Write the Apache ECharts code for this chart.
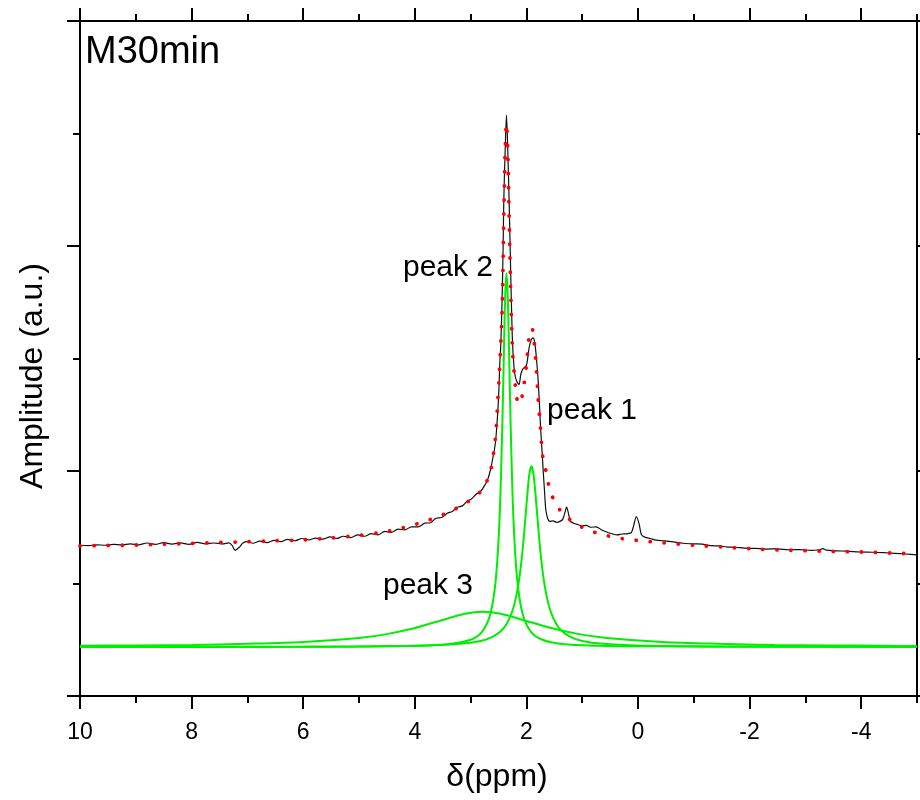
<!DOCTYPE html>
<html>
<head>
<meta charset="utf-8">
<script src="https://cdn.jsdelivr.net/npm/echarts@6/dist/echarts.min.js"></script>
<style>html,body{margin:0;padding:0;background:#fff}#c{width:920px;height:800px}</style>
</head>
<body>
<div id="c"></div>
<script>
// x ticks (ppm)
var xMajor = [10, 8, 6, 4, 2, 0, -2, -4];
var xMinor = [9, 7, 5, 3, 1, -1, -3, -5];

// Experimental spectrum (black)
var measured = [
[10,0.670],[9.85,0.668],[9.7,0.672],[9.55,0.670],[9.4,0.674],[9.25,0.671],[9.1,0.676],[8.95,0.672],
[8.8,0.680],[8.65,0.674],[8.5,0.682],[8.35,0.675],[8.2,0.681],[8.05,0.674],[7.9,0.683],[7.75,0.676],
[7.6,0.680],[7.45,0.676],[7.33,0.681],[7.27,0.668],[7.22,0.647],[7.15,0.660],[7.08,0.680],[7.0,0.686],
[6.9,0.679],[6.78,0.688],[6.65,0.682],[6.52,0.692],[6.4,0.686],[6.28,0.696],[6.15,0.690],[6.02,0.700],
[5.9,0.694],[5.78,0.702],[5.65,0.697],[5.52,0.707],[5.4,0.700],[5.28,0.710],[5.15,0.704],[5.02,0.716],
[4.9,0.710],[4.78,0.722],[4.66,0.716],[4.54,0.732],[4.42,0.727],[4.3,0.742],[4.18,0.738],[4.06,0.752],
[3.94,0.752],[3.82,0.768],[3.72,0.770],[3.62,0.790],[3.52,0.793],[3.42,0.812],[3.33,0.820],[3.24,0.838],
[3.15,0.845],[3.06,0.866],[2.98,0.877],[2.9,0.897],[2.82,0.910],[2.75,0.935],[2.69,0.965],[2.64,1.01],
[2.6,1.06],[2.57,1.10],[2.55,1.138],[2.53,1.20],[2.507,1.286],[2.49,1.38],[2.477,1.479],[2.459,1.56],
[2.436,1.76],[2.418,1.982],[2.405,2.204],[2.38,2.427],[2.357,2.582],[2.334,2.427],[2.31,2.204],[2.29,1.982],
[2.27,1.76],[2.25,1.58],[2.225,1.47],[2.2,1.42],[2.165,1.395],[2.132,1.385],[2.1,1.43],[2.06,1.455],
[2.0,1.47],[1.95,1.55],[1.91,1.585],[1.88,1.592],[1.85,1.57],[1.82,1.50],[1.79,1.404],[1.765,1.29],
[1.743,1.18],[1.72,1.09],[1.70,1.004],[1.675,0.91],[1.653,0.83],[1.62,0.79],[1.58,0.776],[1.52,0.778],
[1.46,0.772],[1.40,0.776],[1.35,0.785],[1.31,0.815],[1.28,0.84],[1.25,0.815],[1.21,0.776],[1.15,0.768],
[1.08,0.762],[1.0,0.756],[0.93,0.758],[0.85,0.750],[0.75,0.752],[0.65,0.738],[0.55,0.728],[0.45,0.720],
[0.38,0.716],[0.28,0.720],[0.18,0.722],[0.12,0.726],[0.08,0.755],[0.03,0.797],[-0.02,0.765],[-0.06,0.718],
[-0.12,0.706],[-0.22,0.700],[-0.33,0.693],[-0.45,0.690],[-0.6,0.686],[-0.81,0.679],[-1.0,0.676],[-1.15,0.675],
[-1.3,0.668],[-1.45,0.667],[-1.6,0.662],[-1.75,0.661],[-1.9,0.657],[-2.1,0.656],[-2.3,0.653],[-2.5,0.654],
[-2.7,0.650],[-2.9,0.651],[-3.1,0.647],[-3.25,0.650],[-3.31,0.655],[-3.38,0.648],[-3.55,0.645],[-3.75,0.644],
[-3.97,0.640],[-4.2,0.639],[-4.4,0.637],[-4.6,0.634],[-4.8,0.631],[-5.0,0.627]
];

// Cumulative fit (red dotted)
var fitSum = [
[10,0.667],[9.5,0.669],[9,0.671],[8.5,0.675],[8,0.678],[7.5,0.682],[7,0.686],[6.5,0.690],[6,0.694],
[5.5,0.702],[5,0.714],[4.6,0.727],[4.3,0.742],[4.0,0.762],[3.8,0.778],[3.55,0.800],[3.3,0.828],[3.07,0.860],
[2.9,0.890],[2.8,0.915],[2.7,0.960],[2.63,1.015],[2.58,1.096],[2.55,1.16],[2.52,1.28],[2.49,1.41],
[2.466,1.53],[2.445,1.65],[2.43,1.76],[2.415,1.98],[2.40,2.20],[2.38,2.43],[2.357,2.545],[2.335,2.43],
[2.315,2.20],[2.297,1.98],[2.277,1.76],[2.25,1.54],[2.22,1.44],[2.19,1.356],[2.16,1.31],[2.132,1.298],
[2.10,1.31],[2.06,1.356],[2.0,1.47],[1.95,1.60],[1.90,1.634],[1.86,1.57],[1.82,1.449],[1.79,1.323],
[1.75,1.197],[1.71,1.071],[1.665,1.02],[1.61,0.948],[1.535,0.886],[1.40,0.827],[1.25,0.790],[1.1,0.765],
[0.93,0.741],[0.7,0.722],[0.42,0.705],[0.18,0.696],[-0.1,0.689],[-0.35,0.683],[-0.7,0.676],[-1.2,0.667],
[-1.7,0.659],[-2.2,0.652],[-2.7,0.648],[-3.25,0.644],[-4.0,0.640],[-5,0.631]
];

// Fitted components (green)
var peak1 = [
[10,0.218],[6,0.2188],[4,0.223],[3.2,0.232],[2.8,0.246],[2.6,0.264],[2.45,0.290],[2.35,0.322],[2.25,0.379],
[2.18,0.446],[2.12,0.536],[2.06,0.670],[2.0,0.846],[1.95,0.980],[1.91,1.022],[1.87,0.980],[1.82,0.846],
[1.76,0.670],[1.70,0.536],[1.64,0.446],[1.57,0.379],[1.47,0.322],[1.37,0.290],[1.22,0.264],[1.02,0.246],
[0.62,0.232],[-0.2,0.223],[-2,0.2195],[-5,0.2187]
];
var peak2 = [
[10,0.218],[8,0.2186],[6,0.219],[5,0.220],[4,0.223],[3.4,0.230],[3.0,0.250],[2.8,0.284],[2.65,0.361],
[2.55,0.515],[2.48,0.797],[2.43,1.220],[2.40,1.570],[2.38,1.777],[2.357,1.879],[2.334,1.777],[2.314,1.570],
[2.284,1.220],[2.234,0.797],[2.164,0.515],[2.064,0.361],[1.914,0.284],[1.714,0.250],[1.357,0.231],
[0.7,0.223],[0,0.2207],[-2,0.219],[-5,0.218]
];
var peak3 = [
[10,0.223],[9,0.225],[8,0.227],[7,0.232],[6,0.240],[5,0.258],[4.5,0.275],[4,0.302],[3.5,0.338],[3.1,0.366],
[2.78,0.375],[2.46,0.366],[2.06,0.338],[1.56,0.302],[1.06,0.275],[0.56,0.258],[-0.44,0.240],[-1.44,0.232],
[-2.44,0.227],[-3.44,0.225],[-4.44,0.223],[-5,0.222]
];

var FONT = '"Liberation Sans", Arial, sans-serif';
var chart = echarts.init(document.getElementById('c'), null, {renderer: 'canvas'});

function xAx(pos, ticks, len, showLine, showLabel) {
  return {
    type: 'value', position: pos, min: -5, max: 10, inverse: true,
    axisLine: {show: showLine, onZero: false, lineStyle: {color: '#000', width: 2}},
    axisTick: {show: true, inside: false, length: len, customValues: ticks, lineStyle: {color: '#000', width: 2}},
    axisLabel: showLabel ? {show: true, customValues: ticks, fontSize: 23, fontFamily: FONT, color: '#000', margin: 25} : {show: false},
    splitLine: {show: false}
  };
}
function yAx(pos) {
  return {
    type: 'value', position: pos, min: 0, max: 3, interval: 1,
    axisLine: {show: true, onZero: false, lineStyle: {color: '#000', width: 2}},
    axisTick: {show: true, inside: false, length: 13, lineStyle: {color: '#000', width: 2}},
    minorTick: {show: true, splitNumber: 2, length: 7, lineStyle: {color: '#000', width: 2}},
    axisLabel: {show: false},
    splitLine: {show: false}, minorSplitLine: {show: false}
  };
}
function lineSeries(name, data, color, width, extra) {
  var s = {
    name: name, type: 'line', data: data, xAxisIndex: 0, yAxisIndex: 0,
    showSymbol: false, symbol: 'none', smooth: 0.3, animation: false,
    lineStyle: {color: color, width: width}
  };
  if (extra) for (var k in extra) s.lineStyle[k] = extra[k];
  return s;
}

chart.setOption({
  animation: false,
  backgroundColor: '#fff',
  grid: {left: 80, right: 3, top: 21, bottom: 104, containLabel: false},
  xAxis: [
    xAx('bottom', xMajor, 13, true, true),
    xAx('bottom', xMinor, 7, false, false),
    xAx('top', xMajor, 13, true, false),
    xAx('top', xMinor, 7, false, false)
  ],
  yAxis: [yAx('left'), yAx('right')],
  series: [
    lineSeries('peak 3', peak3, '#00ee00', 2),
    lineSeries('peak 1', peak1, '#00ee00', 2),
    lineSeries('peak 2', peak2, '#00ee00', 2),
    lineSeries('measured', measured, '#111111', 1.2),
    lineSeries('fit', fitSum, '#ff0000', 3.8, {type: [0.1, 14], cap: 'round'})
  ],
  graphic: [
    {type: 'text', x: 85, y: 53, style: {text: 'M30min', font: '38px ' + FONT, fill: '#000', textAlign: 'left', textVerticalAlign: 'middle', verticalAlign: 'middle'}},
    {type: 'text', x: 448, y: 268, style: {text: 'peak 2', font: '30px ' + FONT, fill: '#000', textAlign: 'center', textVerticalAlign: 'middle', verticalAlign: 'middle'}},
    {type: 'text', x: 592, y: 411, style: {text: 'peak 1', font: '30px ' + FONT, fill: '#000', textAlign: 'center', textVerticalAlign: 'middle', verticalAlign: 'middle'}},
    {type: 'text', x: 428, y: 586, style: {text: 'peak 3', font: '30px ' + FONT, fill: '#000', textAlign: 'center', textVerticalAlign: 'middle', verticalAlign: 'middle'}},
    {type: 'text', x: 497, y: 777, style: {text: 'δ(ppm)', font: '32px ' + FONT, fill: '#000', textAlign: 'center', textVerticalAlign: 'middle', verticalAlign: 'middle'}},
    {type: 'text', x: 33, y: 376, rotation: Math.PI / 2, style: {text: 'Amplitude (a.u.)', font: '32px ' + FONT, fill: '#000', textAlign: 'center', textVerticalAlign: 'middle', verticalAlign: 'middle'}}
  ]
});
</script>
</body>
</html>
